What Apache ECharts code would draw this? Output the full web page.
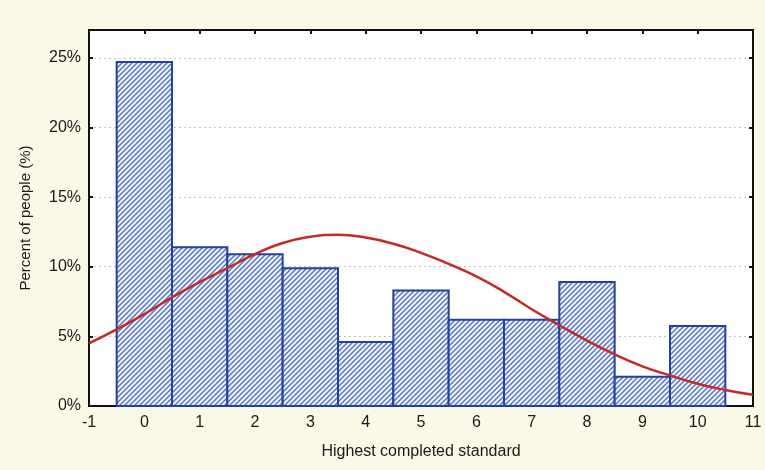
<!DOCTYPE html>
<html>
<head>
<meta charset="utf-8">
<script src="https://cdn.jsdelivr.net/npm/echarts@6/dist/echarts.min.js"></script>
<style>
  html, body { margin: 0; padding: 0; background: #faf8e7; }
  #chart { width: 765px; height: 470px; }
</style>
</head>
<body>
<div id="chart"></div>
<script>
// Histogram: highest completed standard (0..10), percent of people
const standards = [0, 1, 2, 3, 4, 5, 6, 7, 8, 9, 10];
const percents = [24.7, 11.4, 10.9, 9.9, 4.6, 8.3, 6.2, 6.2, 8.9, 2.1, 5.75];

// Fitted normal curve, sampled every half step
const curveX = [-1, -0.5, 0, 0.5, 1, 1.5, 2, 2.5, 3, 3.5, 4, 4.5, 5, 5.5, 6, 6.5, 7, 7.5, 8, 8.5, 9, 9.5, 10, 10.5, 11];
const curveY = [4.5, 5.5, 6.6, 7.8, 8.9, 9.9, 10.9, 11.7, 12.15, 12.3, 12.1, 11.65, 11.0, 10.2, 9.3, 8.2, 6.95, 5.8, 4.7, 3.7, 2.85, 2.2, 1.6, 1.15, 0.8];

// Axis ticks
const xTicks = { min: -1, max: 11, step: 1 };
const yTicks = { min: 0, max: 27, step: 5 };

// Diagonal hatch tile for the bars
function hatchPattern() {
  const s = 5;
  const c = document.createElement('canvas');
  c.width = s; c.height = s;
  const g = c.getContext('2d');
  g.fillStyle = '#f2f5fc';
  g.fillRect(0, 0, s, s);
  g.strokeStyle = '#5575c8';
  g.lineWidth = 1.45;
  g.beginPath();
  g.moveTo(-1, s + 1); g.lineTo(s + 1, -1);
  g.moveTo(-1, 1); g.lineTo(1, -1);
  g.moveTo(s - 1, s + 1); g.lineTo(s + 1, s - 1);
  g.stroke();
  return c;
}
const hatch = hatchPattern();

const chart = echarts.init(document.getElementById('chart'));
const font = 'Liberation Sans, Arial, sans-serif';
const textColor = '#1a1a1a';

function frameAxis(position, extra) {
  return Object.assign({
    type: 'value', position: position,
    axisLine: { show: true, onZero: false, lineStyle: { color: '#111', width: 2 } },
    axisTick: { show: true, inside: true, length: 4, lineStyle: { color: '#111', width: 2 } },
    axisLabel: { show: false },
    splitLine: { show: false }
  }, extra);
}

const option = {
  animation: false,
  backgroundColor: '#faf8e7',
  grid: {
    left: 89, right: 12, top: 30, bottom: 64,
    show: true, backgroundColor: '#ffffff',
    borderColor: '#111111', borderWidth: 2
  },
  xAxis: [
    frameAxis('bottom', {
      min: xTicks.min, max: xTicks.max, interval: xTicks.step,
      name: 'Highest completed standard', nameLocation: 'middle', nameGap: 38,
      nameTextStyle: { fontFamily: font, fontSize: 16, color: textColor },
      axisLabel: { show: true, fontFamily: font, fontSize: 16, color: textColor, margin: 9 }
    }),
    frameAxis('top', { min: xTicks.min, max: xTicks.max, interval: xTicks.step })
  ],
  yAxis: [
    frameAxis('left', {
      min: yTicks.min, max: yTicks.max, interval: yTicks.step,
      name: 'Percent of people (%)', nameLocation: 'middle', nameGap: 56,
      nameTextStyle: { fontFamily: font, fontSize: 15, color: textColor },
      axisLabel: { show: true, fontFamily: font, fontSize: 16, color: textColor, margin: 8,
        showMaxLabel: false, formatter: '{value}%' },
      splitLine: { show: true, lineStyle: { color: '#c2c2c2', type: [2, 3], width: 1 } }
    }),
    frameAxis('right', { min: yTicks.min, max: yTicks.max, interval: yTicks.step,
      axisLabel: { show: false, showMaxLabel: false } })
  ],
  series: [{
    type: 'custom',
    xAxisIndex: 0, yAxisIndex: 0,
    data: standards.map((s, i) => [s, percents[i]]),
    renderItem: function (params, api) {
      const x = api.value(0), y = api.value(1);
      const p0 = api.coord([x - 0.5, y]);
      const p1 = api.coord([x + 0.5, 0]);
      return {
        type: 'rect',
        shape: { x: p0[0], y: p0[1], width: p1[0] - p0[0], height: p1[1] - p0[1] },
        style: { fill: { image: hatch, repeat: 'repeat' }, stroke: '#2341a3', lineWidth: 2 }
      };
    },
    z: 2
  }, {
    type: 'line',
    xAxisIndex: 0, yAxisIndex: 0,
    data: curveX.map((x, i) => [x, curveY[i]]),
    smooth: 0.5, showSymbol: false,
    lineStyle: { color: '#c42b25', width: 2.5 },
    z: 3
  }]
};
chart.setOption(option);
</script>
</body>
</html>
